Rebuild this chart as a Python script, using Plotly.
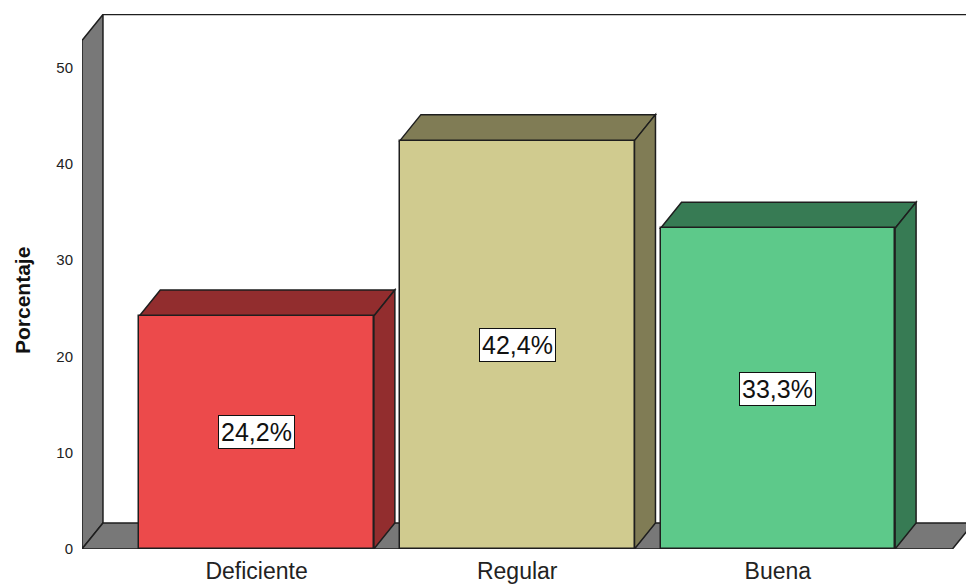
import plotly.graph_objects as go

categories = ["Deficiente", "Regular", "Buena"]
values = [24.2, 42.4, 33.3]
labels = ["24,2%", "42,4%", "33,3%"]
y_ticks = [0, 10, 20, 30, 40, 50]

front_colors = ["#EC4A4B", "#D0CB8F", "#5DC98A"]
dark_colors = ["#922D2E", "#807C55", "#377B54"]
wall_color = "#787878"
edge = "#1E1E1E"

BAR_W = 0.9
DX = 21 / 261.0      # depth offset in x units
DY = 2.7             # depth offset in y units
XL, XR = -0.67, 2.67
YTOP = 52.8

FW, FH = 966, 585
ML, MT = 82, 14
PW, PH = 884, 535

fig = go.Figure()
shapes = []

def poly(pts, fill, lw=1.5):
    path = "M " + " L ".join(f"{x},{y}" for x, y in pts) + " Z"
    shapes.append(dict(type="path", path=path, xref="x", yref="y",
                       fillcolor=fill, line=dict(color=edge, width=lw),
                       layer="below"))

# back wall top edge
shapes.append(dict(type="line", xref="x", yref="y", x0=XL + DX, y0=YTOP + DY,
                   x1=XR + 2 * DX + 1, y1=YTOP + DY, line=dict(color=edge, width=1.5),
                   layer="below"))
# left wall
poly([(XL, 0), (XL, YTOP), (XL + DX, YTOP + DY), (XL + DX, DY)], wall_color)
# floor
poly([(XL, 0), (XR, 0), (XR + DX, DY), (XL + DX, DY)], wall_color)

# bar top & side faces
for i, v in enumerate(values):
    x0 = i - BAR_W / 2
    x1 = i + BAR_W / 2
    poly([(x0, v), (x1, v), (x1 + DX, v + DY), (x0 + DX, v + DY)], dark_colors[i])
    poly([(x1, 0), (x1, v), (x1 + DX, v + DY), (x1 + DX, DY)], dark_colors[i])

fig.add_trace(go.Bar(
    x=list(range(len(categories))), y=values, width=BAR_W,
    marker=dict(color=front_colors, line=dict(color=edge, width=1.5)),
    hoverinfo="skip", showlegend=False,
))

annotations = []
for i, (v, t) in enumerate(zip(values, labels)):
    annotations.append(dict(
        x=i, y=v / 2, xref="x", yref="y", text=t, showarrow=False,
        font=dict(family="Liberation Sans Narrow, Arial Narrow, Liberation Sans, Arial",
                  size=25, color="#111"),
        bgcolor="white", bordercolor="#111", borderwidth=1, borderpad=2,
    ))

annotations.append(dict(
    x=(22 - ML) / PW, y=(PH + MT - 301) / PH,
    xref="paper", yref="paper", text="<b>Porcentaje</b>",
    textangle=-90, showarrow=False, xanchor="center", yanchor="middle",
    font=dict(family="Liberation Sans, Arial", size=21, color="#111"),
))

fig.update_layout(
    width=FW, height=FH,
    margin=dict(l=ML, r=FW - ML - PW, t=MT, b=FH - MT - PH, pad=0),
    paper_bgcolor="white", plot_bgcolor="white",
    shapes=shapes,
    annotations=annotations,
    bargap=0,
    xaxis=dict(range=[XL, 2.722], tickvals=list(range(len(categories))),
               ticktext=categories, showgrid=False, zeroline=False,
               showline=False, ticks="", ticklabelstandoff=6,
               tickfont=dict(family="Liberation Sans, Arial", size=23, color="#222")),
    yaxis=dict(range=[0, 55.55], tickvals=y_ticks, showgrid=False,
               zeroline=False, showline=False, ticks="", ticklabelstandoff=8,
               tickfont=dict(family="Liberation Sans, Arial", size=15, color="#222")),
    font=dict(family="Liberation Sans, Arial"),
)

fig.write_html("out.html", config={"displayModeBar": False},
               post_script="document.body.style.margin='0';document.body.style.overflow='hidden';")
